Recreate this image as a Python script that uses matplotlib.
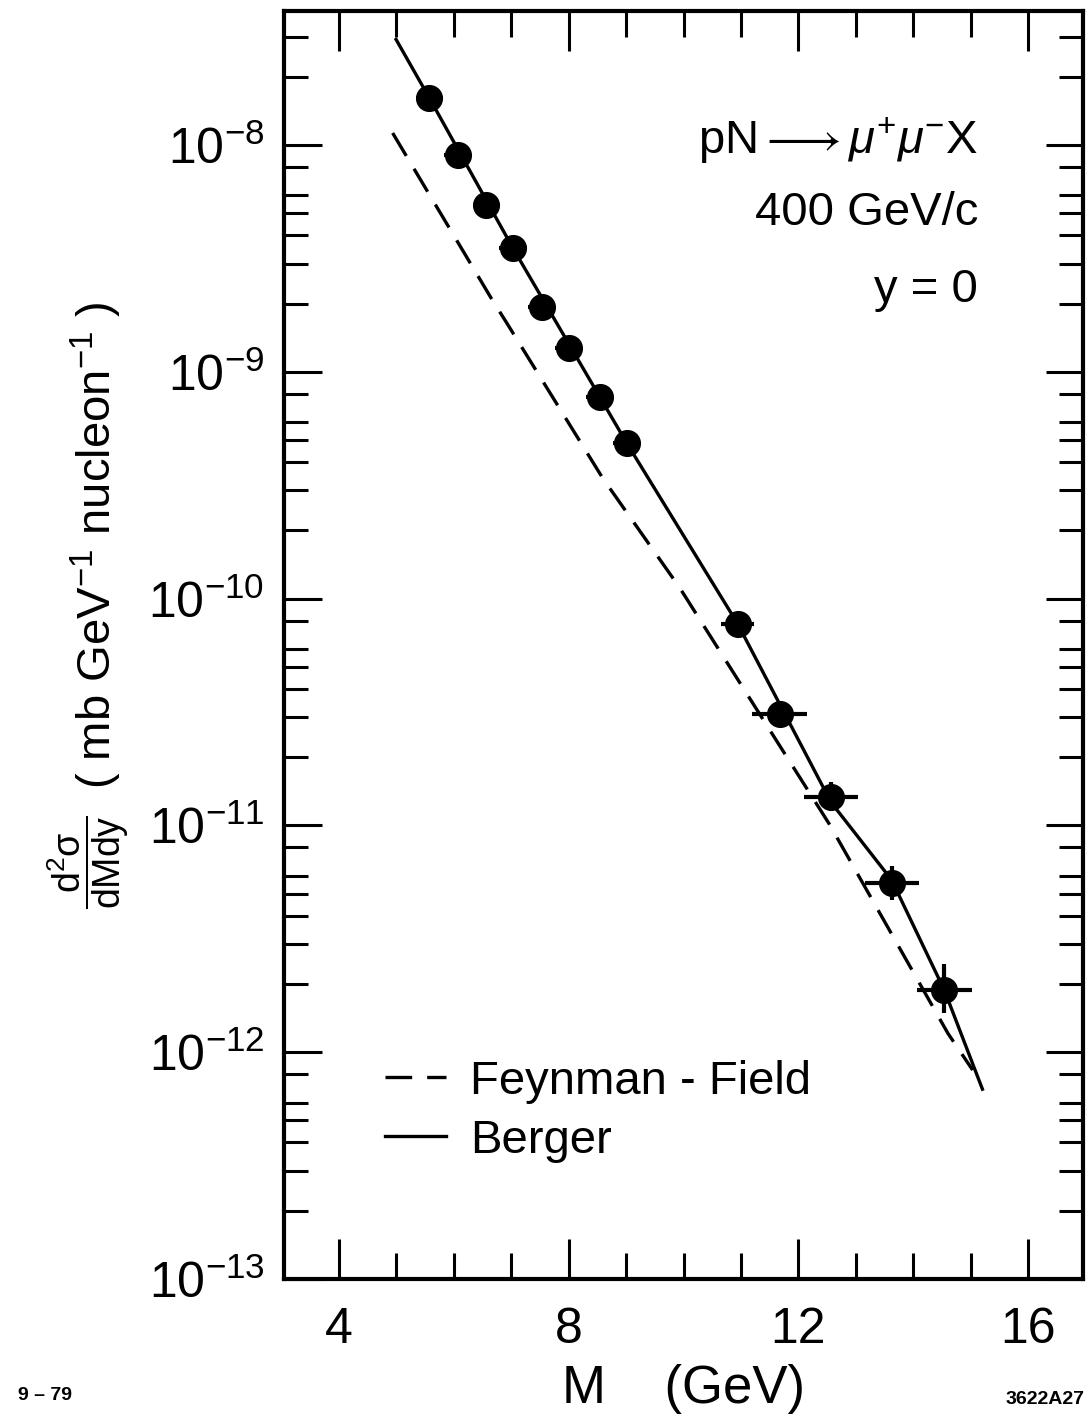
import matplotlib
matplotlib.use("Agg")
import matplotlib.pyplot as plt
from matplotlib.ticker import FixedLocator, MultipleLocator, LogLocator, NullFormatter

plt.rcParams['font.family'] = ['Liberation Sans', 'DejaVu Sans']
plt.rcParams['mathtext.fontset'] = 'custom'
plt.rcParams['mathtext.rm'] = 'Liberation Sans'
plt.rcParams['mathtext.it'] = 'Liberation Sans:italic'
plt.rcParams['mathtext.bf'] = 'Liberation Sans:bold'
plt.rcParams['mathtext.fallback'] = 'stix'

# pN -> mu+ mu- X at 400 GeV/c, y = 0
mass = [5.58, 6.07, 6.57, 7.03, 7.53, 8.00, 8.54, 9.01, 10.94, 11.67, 12.57, 13.62, 14.54]
xsec = [1.61e-8, 9.0e-9, 5.44e-9, 3.52e-9, 1.93e-9, 1.28e-9, 7.76e-10, 4.87e-10,
        7.76e-11, 3.11e-11, 1.34e-11, 5.55e-12, 1.88e-12]
mass_err = [0.24, 0.24, 0.24, 0.24, 0.24, 0.24, 0.24, 0.24, 0.28, 0.47, 0.47, 0.47, 0.47]
xsec_err_lo = [0.10e-8, 0.6e-9, 0.35e-9, 0.25e-9, 0.13e-9, 0.09e-9, 0.5e-10, 0.35e-10,
               0.6e-11, 0.3e-11, 0.18e-11, 0.88e-12, 0.39e-12]
xsec_err_hi = [0.10e-8, 0.6e-9, 0.35e-9, 0.25e-9, 0.13e-9, 0.09e-9, 0.5e-10, 0.35e-10,
               0.6e-11, 0.3e-11, 0.21e-11, 1.04e-12, 0.56e-12]

# model curves
berger_m = [5.00, 5.58, 7.03, 9.01, 10.94, 12.57, 13.62, 14.54, 15.20]
berger_xs = [2.92e-8, 1.61e-8, 3.52e-9, 4.86e-10, 7.76e-11, 1.26e-11, 5.75e-12, 1.87e-12, 6.87e-13]
ff_m = [4.94, 6.68, 6.92, 8.60, 9.93, 12.54, 14.60, 15.03]
ff_xs = [1.13e-8, 2.06e-9, 1.65e-9, 3.38e-10, 1.12e-10, 1.01e-11, 1.21e-12, 8.34e-13]

fig = plt.figure(figsize=(10.91, 14.26), dpi=100)
ax = fig.add_axes([0.2603, 0.1031, 0.7324, 0.8892])
ax.set_yscale('log')
ax.set_xlim(3.05, 16.95)
ax.set_ylim(1e-13, 3.9e-8)

ff_line, = ax.plot(ff_m, ff_xs, color='black', lw=2.4, dashes=(8, 4.5), label='Feynman - Field')
berger_line, = ax.plot(berger_m, berger_xs, color='black', lw=2.4, label='Berger')
ax.errorbar(mass, xsec, xerr=mass_err, yerr=[xsec_err_lo, xsec_err_hi], fmt='o', ms=18.5,
            color='black', elinewidth=3, capsize=0)

ax.legend(handles=[ff_line, berger_line], loc='upper left', bbox_to_anchor=(0.126, 0.173),
          frameon=False, fontsize=34, handlelength=1.3, handletextpad=0.5,
          labelspacing=0.32, borderpad=0, borderaxespad=0)

ax.text(0.8686, 0.898, r'pN$\longrightarrow\mu^{+}\mu^{-}$X', transform=ax.transAxes,
        ha='right', va='center', fontsize=34)
ax.text(0.8686, 0.8407, '400 GeV/c', transform=ax.transAxes, ha='right', va='center', fontsize=34)
ax.text(0.8686, 0.780, 'y = 0', transform=ax.transAxes, ha='right', va='center', fontsize=34)

ax.xaxis.set_major_locator(FixedLocator([4, 8, 12, 16]))
ax.xaxis.set_minor_locator(MultipleLocator(1))
ax.yaxis.set_major_locator(LogLocator(base=10, numticks=20))
ax.yaxis.set_minor_locator(LogLocator(base=10, subs=(2, 3, 4, 5, 6, 8), numticks=20))
ax.yaxis.set_minor_formatter(NullFormatter())
ax.tick_params(which='both', direction='in', top=True, right=True, width=2.2, labelsize=36)
ax.tick_params(axis='x', which='major', length=29, pad=20)
ax.tick_params(axis='x', which='minor', length=19)
ax.tick_params(axis='y', which='major', length=27, pad=14)
ax.tick_params(axis='y', which='minor', length=17)
for s in ax.spines.values():
    s.set_linewidth(3)

# axis titles
fig.text(0.6265, 0.026, 'M    (GeV)', ha='center', va='center', fontsize=38)
fig.text(88 / 1091, 1 - 862 / 1426, r'$\dfrac{\mathrm{d^2\sigma}}{\mathrm{dMdy}}$',
         rotation=90, ha='center', va='center', fontsize=27)
fig.text(96 / 1091, 1 - 545 / 1426, r'( mb GeV$^{-1}$ nucleon$^{-1}$ )',
         rotation=90, ha='center', va='center', fontsize=34)

fig.text(18 / 1091, 1 - 1396 / 1426, '9 – 79', ha='left', va='center', fontsize=14, weight='bold')
fig.text(1085 / 1091, 1 - 1400 / 1426, '3622A27', ha='right', va='center', fontsize=14, weight='bold')

fig.savefig('out.png', dpi=100)
